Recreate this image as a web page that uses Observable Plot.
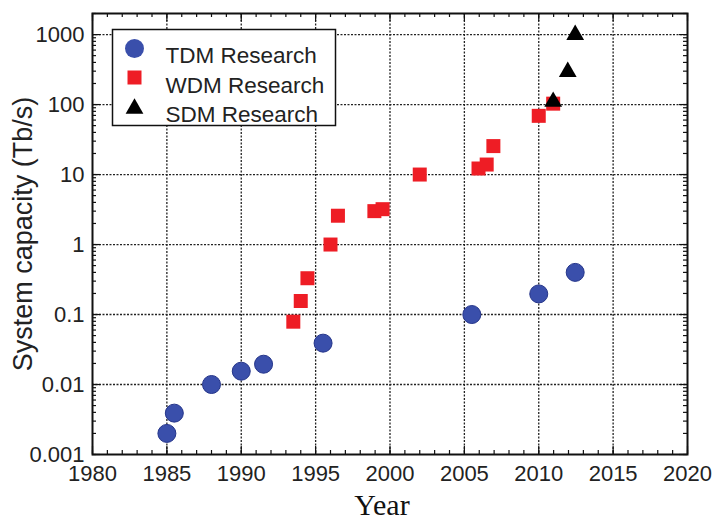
<!DOCTYPE html>
<html><head><meta charset="utf-8">
<script src="https://cdn.jsdelivr.net/npm/d3@7"></script>
<script src="https://cdn.jsdelivr.net/npm/@observablehq/plot@0.6"></script>
<style>
body{margin:0;background:#fff;} #chart{width:715px;height:519px;}
#chart svg g[aria-label$="tick label"], #chart svg g[aria-label$="tick label"] text { font-size: 22px !important; }
</style>
</head><body><div id="chart"></div>
<script>
// Data
const tdmYear = [1985, 1985.5, 1988, 1990, 1991.5, 1995.5, 2005.5, 2010, 2012.45];
const tdmCap  = [0.002, 0.0039, 0.01, 0.0155, 0.0195, 0.039, 0.1, 0.197, 0.4];
const wdmYear = [1993.5, 1994, 1994.45, 1996, 1996.5, 1998.95, 1999.5, 2002, 2005.95, 2006.5, 2006.95, 2010, 2010.97];
const wdmCap  = [0.079, 0.156, 0.33, 1.0, 2.58, 3.0, 3.2, 10, 12.2, 13.9, 25.5, 69, 103];
const sdmYear = [2010.97, 2011.95, 2012.45];
const sdmCap  = [110, 294, 990];
const seriesNames = ["TDM Research", "WDM Research", "SDM Research"];
const xTicks = [1980, 1985, 1990, 1995, 2000, 2005, 2010, 2015, 2020];
const yTicks = [0.001, 0.01, 0.1, 1, 10, 100, 1000];
const xLabel = "Year";
const yLabel = "System capacity (Tb/s)";

const tdm = tdmYear.map((x, i) => ({x, y: tdmCap[i]}));
const wdm = wdmYear.map((x, i) => ({x, y: wdmCap[i]}));
const sdm = sdmYear.map((x, i) => ({x, y: sdmCap[i]}));
const minorX = d3.range(1980, 2021);
const minorY = d3.scaleLog().domain([0.001, 2000]).ticks().filter(v => v <= 2000);

const W = 715, H = 519, ML = 92, MT = 13, MR = 28, MB = 65;
const IW = W - ML - MR, IH = H - MT - MB;
const grid = {stroke: "#222", strokeOpacity: 1, strokeWidth: 1.3, strokeDasharray: "2,1.5"};
const tickStyle = {stroke: "#111", strokeWidth: 1.2};

const chart = Plot.plot({
  width: W, height: H,
  marginLeft: ML, marginTop: MT, marginRight: MR, marginBottom: MB,
  style: {fontFamily: "'Liberation Sans', Arial, sans-serif", fontSize: "22px", color: "#222", background: "#fff"},
  x: {domain: [1980, 2020], label: null},
  y: {type: "log", domain: [0.001, 2000], label: null},
  marks: [
    Plot.gridX(xTicks.slice(1, -1), grid),
    Plot.gridY(yTicks.slice(1), grid),
    // inward minor ticks
    Plot.tickX(minorX, {x: d => d, insetTop: IH - 4, ...tickStyle}),
    Plot.tickX(minorX, {x: d => d, insetBottom: IH - 4, ...tickStyle}),
    Plot.tickX(xTicks, {x: d => d, insetTop: IH - 8, ...tickStyle}),
    Plot.tickX(xTicks, {x: d => d, insetBottom: IH - 8, ...tickStyle}),
    Plot.tickY(minorY, {y: d => d, insetRight: IW - 4, ...tickStyle}),
    Plot.tickY(minorY, {y: d => d, insetLeft: IW - 4, ...tickStyle}),
    Plot.tickY(yTicks, {y: d => d, insetRight: IW - 8, ...tickStyle}),
    Plot.tickY(yTicks, {y: d => d, insetLeft: IW - 8, ...tickStyle}),
    Plot.axisX(xTicks, {anchor: "bottom", tickSize: 0, tickPadding: 11, tickFormat: d => String(d), fontSize: 22, fill: "#222", label: null}),
    Plot.axisY(yTicks, {anchor: "left", tickSize: 0, tickPadding: 8, tickFormat: d => String(d), fontSize: 22, fill: "#222", label: null}),
    Plot.frame({stroke: "#111", strokeWidth: 2}),
    // data
    Plot.dot(wdm, {x: "x", y: "y", symbol: "square", r: 7.9, fill: "#ee1d25", stroke: "none"}),
    Plot.dot(tdm, {x: "x", y: "y", symbol: "circle", r: 9, fill: "#3a4fab", stroke: "#25358a", strokeWidth: 1}),
    Plot.dot(sdm, {x: "x", y: "y", symbol: "triangle", r: 6.6, fill: "#000", stroke: "none"}),
    // legend
    Plot.frame({insetLeft: 20, insetTop: 16, insetRight: 352, insetBottom: 329, fill: "#fff", stroke: "#111", strokeWidth: 1.5}),
    Plot.dot([seriesNames[0]], {frameAnchor: "top-left", dx: 42, dy: 35, symbol: "circle", r: 9.5, fill: "#3a4fab", stroke: "none"}),
    Plot.dot([seriesNames[1]], {frameAnchor: "top-left", dx: 42, dy: 64, symbol: "square", r: 7.9, fill: "#ee1d25", stroke: "none"}),
    Plot.dot([seriesNames[2]], {frameAnchor: "top-left", dx: 42, dy: 95, symbol: "triangle", r: 6.6, fill: "#000", stroke: "none"}),
    Plot.text([seriesNames[0]], {text: d => d, frameAnchor: "top-left", dx: 73, dy: 34, textAnchor: "start", fontSize: 22.5, fill: "#222"}),
    Plot.text([seriesNames[1]], {text: d => d, frameAnchor: "top-left", dx: 73, dy: 64, textAnchor: "start", fontSize: 22.5, fill: "#222"}),
    Plot.text([seriesNames[2]], {text: d => d, frameAnchor: "top-left", dx: 73, dy: 93, textAnchor: "start", fontSize: 22.5, fill: "#222"}),
    // axis titles
    Plot.text([yLabel], {text: d => d, frameAnchor: "left", textAnchor: "middle", lineAnchor: "middle", dx: -69, rotate: -90, fontSize: 27, fill: "#222"}),
    Plot.text([xLabel], {text: d => d, frameAnchor: "bottom", textAnchor: "middle", dx: -8, dy: 60, fontSize: 30, fontFamily: "'Liberation Serif', 'Times New Roman', serif", fill: "#111"})
  ]
});
document.getElementById("chart").appendChild(chart);
</script>
</body></html>
